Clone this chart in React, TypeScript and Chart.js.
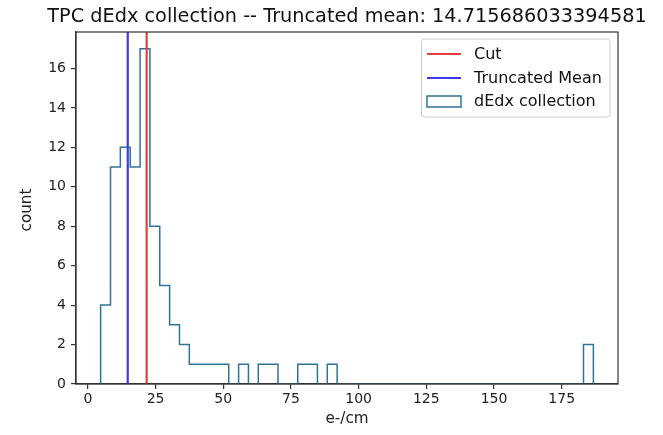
import { useEffect, useRef } from "react";
import { Chart, registerables } from "chart.js";

Chart.register(...registerables);

// ---- data ----
const titleText = "TPC dEdx collection -- Truncated mean: 14.715686033394581";
const binMin = 4.7;
const binMax = 186.7;
const binCount = 50;
const counts = [
  4, 11, 12, 11, 17, 8, 5, 3, 2, 1, 1, 1, 1, 0, 1, 0, 1, 1, 0, 0, 1, 1, 0, 1,
  0, 0, 0, 0, 0, 0, 0, 0, 0, 0, 0, 0, 0, 0, 0, 0, 0, 0, 0, 0, 0, 0, 0, 0, 0,
  2,
];
const cutValue = 21.7;
const truncatedMean = 14.715686033394581;
const xTicks = [0, 25, 50, 75, 100, 125, 150, 175];
const yTicks = [0, 2, 4, 6, 8, 10, 12, 14, 16];
const xLimits = [-4.4, 195.8];
const yLimits = [0, 17.85];
const legendLabels = ["Cut", "Truncated Mean", "dEdx collection"];

const FONT = "'DejaVu Sans', sans-serif";
const HIST_COLOR = "#2f7498";
const CUT_COLOR = "#e2403f";
const MEAN_COLOR = "#3b3be8";
const AXIS_COLOR = "#333333";

function histogramPoints() {
  const w = (binMax - binMin) / binCount;
  const pts: { x: number; y: number }[] = [{ x: binMin, y: 0 }];
  counts.forEach((c, i) => pts.push({ x: binMin + i * w, y: c }));
  pts.push({ x: binMax, y: 0 });
  return pts;
}

const overlayPlugin = {
  id: "overlay",
  afterDraw(chart: any) {
    const { ctx, chartArea } = chart;
    const { left, right, top, bottom } = chartArea;
    ctx.save();
    // frame (spines)
    ctx.strokeStyle = AXIS_COLOR;
    ctx.lineWidth = 1.2;
    ctx.strokeRect(left, top, right - left, bottom - top);

    // title
    ctx.fillStyle = "#111";
    ctx.font = `19.3px ${FONT}`;
    ctx.textAlign = "center";
    ctx.textBaseline = "alphabetic";
    ctx.fillText(titleText, (left + right) / 2, 22);

    // axis labels
    ctx.textBaseline = "middle";
    ctx.font = `15.2px ${FONT}`;
    ctx.fillStyle = "#222";
    ctx.fillText("e-/cm", (left + right) / 2, 419);
    ctx.save();
    ctx.translate(27, (top + bottom) / 2 + 2);
    ctx.rotate(-Math.PI / 2);
    ctx.fillText("count", 0, 0);
    ctx.restore();

    // legend
    const bx = 421.5, by = 39, bw = 188.5, bh = 78, r = 3;
    ctx.beginPath();
    ctx.moveTo(bx + r, by);
    ctx.arcTo(bx + bw, by, bx + bw, by + bh, r);
    ctx.arcTo(bx + bw, by + bh, bx, by + bh, r);
    ctx.arcTo(bx, by + bh, bx, by, r);
    ctx.arcTo(bx, by, bx + bw, by, r);
    ctx.closePath();
    ctx.fillStyle = "rgba(255,255,255,0.8)";
    ctx.fill();
    ctx.strokeStyle = "#cccccc";
    ctx.lineWidth = 1;
    ctx.stroke();

    const rows = [54, 78, 101.5];
    ctx.lineWidth = 2.2;
    ctx.strokeStyle = CUT_COLOR;
    ctx.beginPath();
    ctx.moveTo(427, rows[0]);
    ctx.lineTo(461, rows[0]);
    ctx.stroke();
    ctx.strokeStyle = MEAN_COLOR;
    ctx.beginPath();
    ctx.moveTo(427, rows[1]);
    ctx.lineTo(461, rows[1]);
    ctx.stroke();
    ctx.strokeStyle = HIST_COLOR;
    ctx.lineWidth = 1.5;
    ctx.strokeRect(427, rows[2] - 5.5, 34, 11);

    ctx.fillStyle = "#111";
    ctx.font = `16px ${FONT}`;
    ctx.textAlign = "left";
    legendLabels.forEach((t, i) => ctx.fillText(t, 474, rows[i] + 0.5));
    ctx.restore();
  },
};

export default function App() {
  const ref = useRef<HTMLCanvasElement | null>(null);
  useEffect(() => {
    document.body.style.margin = "0";
    if (!ref.current) return;
    const chart = new Chart(ref.current, {
      type: "line",
      data: {
        datasets: [
          {
            label: legendLabels[0],
            data: [
              { x: cutValue, y: yLimits[0] },
              { x: cutValue, y: yLimits[1] },
            ],
            borderColor: CUT_COLOR,
            borderWidth: 2.2,
            pointRadius: 0,
          },
          {
            label: legendLabels[1],
            data: [
              { x: truncatedMean, y: yLimits[0] },
              { x: truncatedMean, y: yLimits[1] },
            ],
            borderColor: MEAN_COLOR,
            borderWidth: 2.2,
            pointRadius: 0,
          },
          {
            label: legendLabels[2],
            data: histogramPoints(),
            borderColor: HIST_COLOR,
            borderWidth: 1.5,
            pointRadius: 0,
            stepped: "before",
            fill: false,
          },
        ],
      },
      options: {
        animation: false,
        responsive: true,
        maintainAspectRatio: false,
        layout: { padding: { top: 32, right: 45, left: 0, bottom: 0 } },
        plugins: {
          legend: { display: false },
          title: { display: false },
          tooltip: { enabled: false },
        },
        scales: {
          x: {
            type: "linear",
            min: xLimits[0],
            max: xLimits[1],
            afterBuildTicks: (s: any) => {
              s.ticks = xTicks.map((v) => ({ value: v }));
            },
            afterFit: (s: any) => {
              s.height = 51;
            },
            grid: {
              display: true,
              drawOnChartArea: false,
              drawTicks: true,
              tickLength: 5,
              color: AXIS_COLOR,
              lineWidth: 1.2,
            },
            border: { display: true, color: AXIS_COLOR, width: 1.2 },
            ticks: {
              color: "#222",
              font: { family: FONT, size: 14 },
              padding: 2,
              maxRotation: 0,
              autoSkip: false,
            },
          },
          y: {
            type: "linear",
            min: yLimits[0],
            max: yLimits[1],
            afterBuildTicks: (s: any) => {
              s.ticks = yTicks.map((v) => ({ value: v }));
            },
            afterFit: (s: any) => {
              s.width = 76;
            },
            grid: {
              display: true,
              drawOnChartArea: false,
              drawTicks: true,
              tickLength: 5,
              color: AXIS_COLOR,
              lineWidth: 1.2,
            },
            border: { display: true, color: AXIS_COLOR, width: 1.2 },
            ticks: {
              color: "#222",
              font: { family: FONT, size: 14 },
              padding: 5,
              autoSkip: false,
            },
          },
        },
      },
      plugins: [overlayPlugin],
    } as any);
    return () => chart.destroy();
  }, []);
  return (
    <div style={{ position: "fixed", left: 0, top: 0, width: 663, height: 435, background: "#fff" }}>
      <canvas ref={ref} />
    </div>
  );
}
